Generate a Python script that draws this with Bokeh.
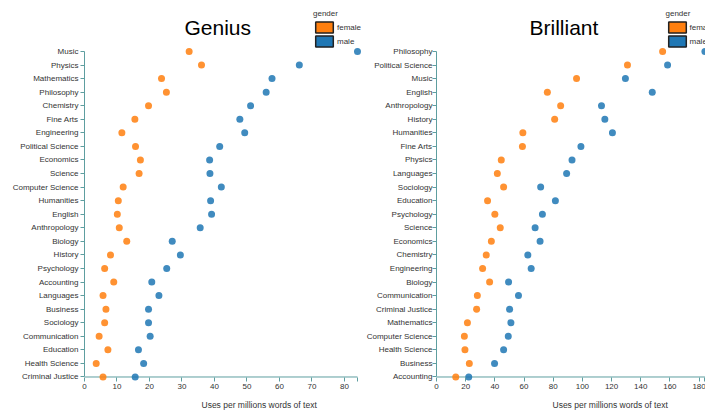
from bokeh.plotting import figure
from bokeh.layouts import row
from bokeh.models import (Range1d, FixedTicker, LinearAxis, Legend, LegendItem,
                          ColumnDataSource, Title, Label)
from bokeh.embed import file_html
from bokeh.resources import INLINE

genius_fields = ["Music", "Physics", "Mathematics", "Philosophy", "Chemistry", "Fine Arts",
                 "Engineering", "Political Science", "Economics", "Science", "Computer Science",
                 "Humanities", "English", "Anthropology", "Biology", "History", "Psychology",
                 "Accounting", "Languages", "Business", "Sociology", "Communication",
                 "Education", "Health Science", "Criminal Justice"]
genius_female = [32.2, 36.0, 23.7, 25.2, 19.7, 15.5, 11.5, 15.7, 17.2, 16.8, 11.9, 10.4, 10.1,
                 10.7, 13.0, 8.0, 6.2, 9.0, 5.7, 6.6, 6.2, 4.5, 7.2, 3.6, 5.7]
genius_male = [84.0, 66.1, 57.7, 55.9, 51.1, 47.8, 49.3, 41.6, 38.5, 38.6, 42.1, 38.8, 39.1,
               35.6, 27.0, 29.5, 25.3, 20.7, 22.9, 19.7, 19.7, 20.2, 16.6, 18.2, 15.6]
genius_ticks = [0, 10, 20, 30, 40, 50, 60, 70, 80]

brilliant_fields = ["Philosophy", "Political Science", "Music", "English", "Anthropology",
                    "History", "Humanities", "Fine Arts", "Physics", "Languages", "Sociology",
                    "Education", "Psychology", "Science", "Economics", "Chemistry",
                    "Engineering", "Biology", "Communication", "Criminal Justice",
                    "Mathematics", "Computer Science", "Health Science", "Business",
                    "Accounting"]
brilliant_female = [155.0, 130.9, 96.0, 76.0, 85.1, 81.0, 59.2, 58.9, 44.4, 41.7, 46.0, 35.0,
                    40.0, 43.7, 37.6, 34.1, 31.6, 36.4, 28.0, 27.5, 21.2, 19.1, 19.5, 22.5, 13.2]
brilliant_male = [184.0, 158.4, 129.5, 147.9, 113.1, 115.4, 120.6, 99.0, 92.9, 89.2, 71.4, 81.5,
                  72.6, 67.6, 71.0, 62.6, 64.9, 49.4, 56.2, 50.1, 51.0, 49.2, 46.0, 39.8, 22.1]
brilliant_ticks = [0, 20, 40, 60, 80, 100, 120, 140, 160, 180]

genders = ["female", "male"]
x_label = "Uses per millions words of text"

FONT = "Liberation Sans"
AXIS_COLOR = "#5e9ea0"
TEXT_COLOR = "#333333"
COLORS = {"female": "#ff7f0e", "male": "#1f77b4"}
NAN = float("nan")


def make_panel(title, fields, female, male, ticks, width, border_left, x_end,
               title_x, label_offset, legend_x, ylabel_standoff):
    n = len(fields)
    idx = list(range(n))
    x_max = max(female + male)
    p = figure(width=width, height=416, output_backend="svg", toolbar_location=None,
               x_range=Range1d(0, x_end), y_range=Range1d(n - 1 + 0.332, -3.76),
               x_axis_type=None, y_axis_type=None,
               min_border_left=border_left, min_border_right=0,
               min_border_top=0, min_border_bottom=35)
    p.outline_line_color = None
    p.xgrid.visible = False
    p.ygrid.visible = False

    p.add_layout(Label(x=title_x, y=354, x_units="screen", y_units="screen", text=title,
                       text_font=FONT, text_font_size="21px", text_color="#000000",
                       text_align="left", text_baseline="alphabetic"))

    # y axis (categories)
    yax = LinearAxis(ticker=FixedTicker(ticks=idx),
                     major_label_overrides={i: f for i, f in enumerate(fields)},
                     bounds=(0, n - 1))
    yax.axis_line_color = AXIS_COLOR
    yax.major_tick_line_color = AXIS_COLOR
    yax.major_tick_out = 4
    yax.major_tick_in = 0
    yax.minor_tick_line_color = None
    yax.major_label_standoff = ylabel_standoff
    yax.major_label_text_font = FONT
    yax.major_label_text_font_size = "8px"
    yax.major_label_text_color = TEXT_COLOR
    p.add_layout(yax, "left")

    # x axis
    xax = LinearAxis(ticker=FixedTicker(ticks=ticks + [x_max]),
                     major_label_overrides={x_max: ""})
    xax.axis_line_color = None
    xax.major_tick_line_color = AXIS_COLOR
    xax.major_tick_out = 0
    xax.major_tick_in = 4
    xax.minor_tick_line_color = None
    xax.major_label_standoff = 2
    xax.major_label_text_font = FONT
    xax.major_label_text_font_size = "8px"
    xax.major_label_text_color = TEXT_COLOR
    p.add_layout(xax, "below")

    xt = Title(text=x_label, align="left", offset=label_offset, text_font=FONT,
               text_font_size="8.5px", text_font_style="normal", text_color=TEXT_COLOR,
               standoff=13)
    p.add_layout(xt, "below")

    # x axis line at the last category
    p.segment(x0=[0], y0=[n - 1], x1=[x_max], y1=[n - 1], line_color=AXIS_COLOR, line_width=1)

    src = ColumnDataSource(dict(y=idx, female=female, male=male))
    for g in genders:
        p.scatter(x=g, y="y", source=src, size=7, fill_color=COLORS[g], fill_alpha=0.85,
                  line_color=None)

    items = []
    for g in genders:
        r = p.quad(left=[NAN], right=[NAN], top=[NAN], bottom=[NAN], fill_color=COLORS[g],
                   line_color="#222222", line_width=1.5)
        items.append(LegendItem(label=g, renderers=[r]))
    leg = Legend(items=items, title="gender", location=(legend_x, 333),
                 padding=0, margin=0, spacing=0, border_line_color=None,
                 background_fill_alpha=0, glyph_width=22, glyph_height=14,
                 label_height=10, label_width=10, label_standoff=2,
                 label_text_font=FONT, label_text_font_size="8px",
                 label_text_color=TEXT_COLOR,
                 title_text_font=FONT, title_text_font_size="8px",
                 title_text_font_style="normal", title_text_color=TEXT_COLOR,
                 title_standoff=2)
    p.add_layout(leg, "center")
    return p


p1 = make_panel("Genius", genius_fields, genius_female, genius_male, genius_ticks,
                width=363, border_left=84, x_end=85.85,
                title_x=100, label_offset=117, legend_x=229, ylabel_standoff=2)
p2 = make_panel("Brilliant", brilliant_fields, brilliant_female, brilliant_male,
                brilliant_ticks, width=342, border_left=72, x_end=184.4,
                title_x=93, label_offset=116, legend_x=229.5, ylabel_standoff=0)

layout = row(p1, p2)
open("out.html", "w").write(file_html(layout, INLINE))
